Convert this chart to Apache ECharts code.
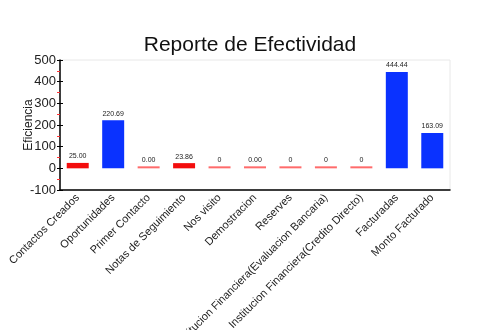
<!DOCTYPE html>
<html><head><meta charset="utf-8">
<script src="https://cdn.jsdelivr.net/npm/echarts@6/dist/echarts.min.js"></script>
<style>html,body{margin:0;padding:0;background:#fff}#c{width:500px;height:330px}</style>
</head><body><div id="c"></div>
<script>
const categories = ["Contactos Creados","Oportunidades","Primer Contacto","Notas de Seguimiento","Nos visito","Demostracion","Reserves","Institucion Financiera(Evaluacion Bancaria)","Institucion Financiera(Credito Directo)","Facturadas","Monto Facturado"];
const values = [25, 222, 0, 24, 0, 0, 0, 0, 0, 444.44, 163.09];
const valueLabels = ["25.00","220.69","0.00","23.86","0","0.00","0","0","0","444.44","163.09"];
const yTicks = {min: -100, max: 500, interval: 100};

const font = "'Liberation Sans',Arial,sans-serif";
const chart = echarts.init(document.getElementById('c'), null, {renderer:'canvas'});
const data = values.map((v,i)=>({
  value: v,
  itemStyle: {color: v === 0 ? '#ff6b6b' : (v >= 100 ? '#0a32ff' : '#f30d0d')}
}));
chart.setOption({
  animation:false,
  title:{text:'Reporte de Efectividad', left:'center', top:30,
    textStyle:{fontFamily:font, fontSize:21, fontWeight:'normal', color:'#111'}},
  grid:{left:60, right:50, top:60, bottom:140, show:true, borderColor:'#e8e8e8', borderWidth:1,
    containLabel:false, outerBoundsMode:'none'},
  xAxis:[{
    type:'category', data:categories, position:'bottom',
    axisLine:{onZero:false, lineStyle:{color:'#000', width:1.5}},
    axisTick:{alignWithLabel:true, length:4, lineStyle:{color:'#555'}},
    axisLabel:{rotate:45, interval:0, fontFamily:font, fontSize:11, color:'#222', margin:6, hideOverlap:false}
  },{
    type:'category', data:categories, position:'bottom',
    axisLine:{show:false},
    axisTick:{alignWithLabel:true, inside:true, length:4, lineStyle:{color:'#555'}},
    axisLabel:{show:false}
  }],
  yAxis:[{
    type:'value', min:yTicks.min, max:yTicks.max, interval:yTicks.interval,
    name:'Eficiencia', nameLocation:'middle', nameGap:25, nameMoveOverlap:false,
    nameTextStyle:{fontFamily:font, fontSize:12, color:'#222'},
    axisLine:{show:true, lineStyle:{color:'#000', width:1.5}},
    axisTick:{show:true, length:3, lineStyle:{color:'#000'}},
    minorTick:{show:true, splitNumber:2, length:3, lineStyle:{color:'#f33'}},
    axisLabel:{fontFamily:font, fontSize:13, color:'#222', margin:4},
    splitLine:{show:false}
  },{
    type:'value', min:yTicks.min, max:yTicks.max, interval:yTicks.interval, position:'left',
    axisLine:{show:false},
    axisTick:{show:true, inside:true, length:3, lineStyle:{color:'#000'}},
    axisLabel:{show:false}, splitLine:{show:false}
  }],
  series:[{
    type:'bar', data:data, barWidth:'62%', barMinHeight:2,
    label:{show:true, position:'top', distance:3, fontFamily:font, fontSize:7, color:'#222',
      formatter:(p)=>valueLabels[p.dataIndex]}
  }]
});
</script></body></html>
